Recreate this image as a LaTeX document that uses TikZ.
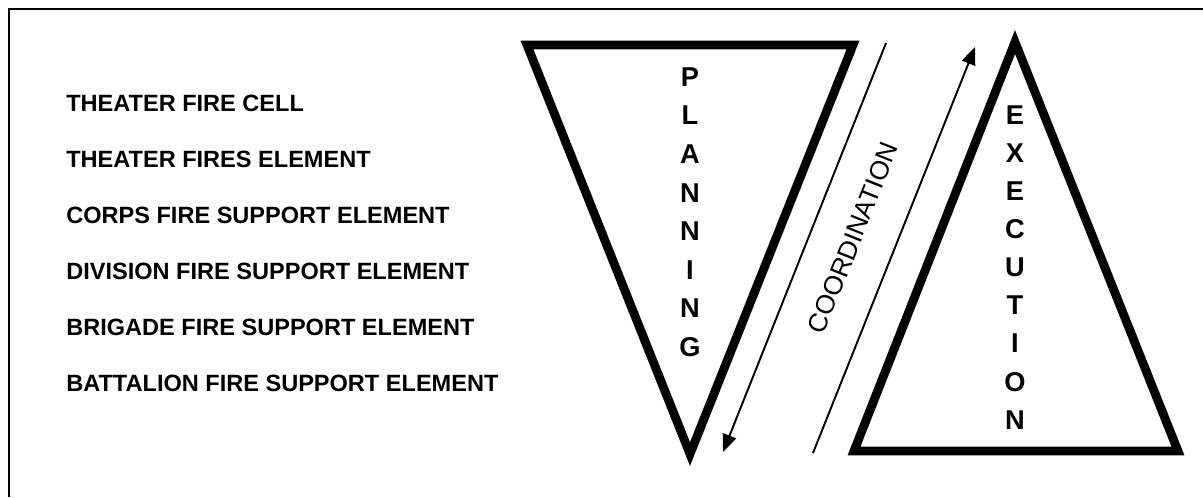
\documentclass[tikz,border=0pt]{standalone}
\usepackage{fontspec}
\setmainfont{Liberation Sans}
\usetikzlibrary{arrows.meta}
\tikzset{
  frameline/.style={draw=black, line width=1.1pt},
  tribox/.style={draw=black, line width=5pt, line join=miter},
  tletter/.style={font=\fontsize{15.5}{17}\selectfont\bfseries, inner sep=0pt},
  lvl/.style={font=\fontsize{13.4}{15}\selectfont\bfseries, anchor=west, inner sep=0pt},
  flow/.style={draw=black, line width=1.1pt, -{Triangle[length=10pt, width=8pt]}},
  flowtext/.style={font=\fontsize{15}{17}\selectfont, inner sep=0pt}
}
\begin{document}
\begin{tikzpicture}[x=0.02cm, y=-0.02cm]
  \useasboundingbox (0,0) rectangle (1203,497);

  % ---- Frame: only top and left edges show ------------------------------
  \draw[frameline] (9,497) -- (9,9) -- (1203,9);

  % ---- Fire support levels, top to bottom ---------------------------------
  \foreach \lbl [count=\k] in {THEATER FIRE CELL, THEATER FIRES ELEMENT,
      CORPS FIRE SUPPORT ELEMENT, DIVISION FIRE SUPPORT ELEMENT,
      BRIGADE FIRE SUPPORT ELEMENT, BATTALION FIRE SUPPORT ELEMENT} {
    \node[lvl] (lvl\k) at (66, 103 + 56*\k - 56) {\lbl};
  }

  % ---- Planning: triangle pointing down -----------------------------------
  \draw[tribox] (527,45) -- (853,45) -- (690,454) -- cycle;
  \foreach \ch [count=\k] in {P,L,A,N,N,I,N,G} {
    \node[tletter] (plan\k) at (690, 77 + 38.6*\k - 38.6) {\ch};
  }

  % ---- Execution: triangle pointing up ------------------------------------
  \draw[tribox] (1015,42) -- (1178,451) -- (854,451) -- cycle;
  \foreach \ch [count=\k] in {E,X,E,C,U,T,I,O,N} {
    \node[tletter] (exec\k) at (1015, 115 + 38.1*\k - 38.1) {\ch};
  }

  % ---- Coordination: two arrows between the triangles ---------------------
  \coordinate (downtop) at (886,43);
  \coordinate (downend) at (723,452);
  \coordinate (upbot) at (813,453);
  \coordinate (uptop) at (975,47);
  \draw[flow] (downtop) -- (downend);
  \draw[flow] (upbot) -- (uptop);
  \node[flowtext, rotate=68.3] (coord) at (853,238) {COORDINATION};

\end{tikzpicture}
\end{document}
